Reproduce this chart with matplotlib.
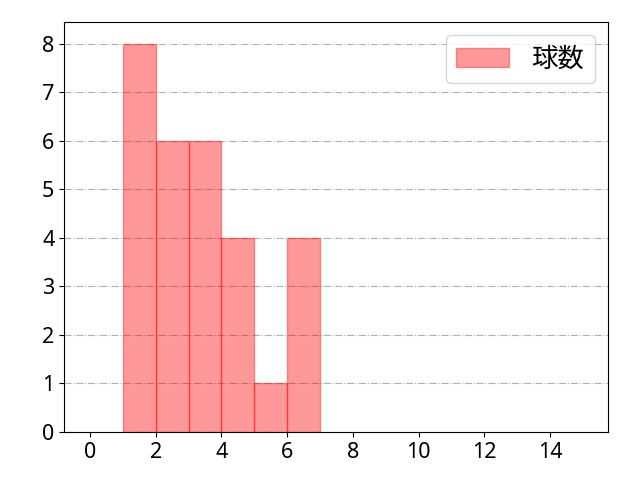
import numpy as np
import matplotlib
matplotlib.use("Agg")
import matplotlib.pyplot as plt

plt.rcParams['font.family'] = ['Noto Sans CJK JP', 'DejaVu Sans']
plt.rcParams['font.size'] = 15

# 球数の分布 (bin left edge -> count)
bin_edges = [1, 2, 3, 4, 5, 6, 7]
counts = [8, 6, 6, 4, 1, 4]
label = "球数"

fig, ax = plt.subplots(figsize=(6.4, 4.8), dpi=100)
ax.hist(bin_edges[:-1], bins=bin_edges, weights=counts, color='red',
        alpha=0.4, edgecolor='red', linewidth=1, label=label)

ax.set_xlim(-0.79, 15.76)
ax.set_ylim(0, 8.45)
ax.set_xticks(np.arange(0, 15, 2))
ax.set_yticks(np.arange(0, 9, 1))
for t in ax.get_xticklabels() + ax.get_yticklabels():
    t.set_family(['Noto Sans', 'DejaVu Sans'])
    t.set_fontsize(15.5)
ax.grid(axis='y', linestyle='-.', color='#b0b0b0')
ax.set_axisbelow(True)
ax.legend(loc='upper right', fontsize=19, handletextpad=0.85)

fig.subplots_adjust(left=0.1, right=0.95, top=0.954, bottom=0.1)
plt.savefig("out.png")
